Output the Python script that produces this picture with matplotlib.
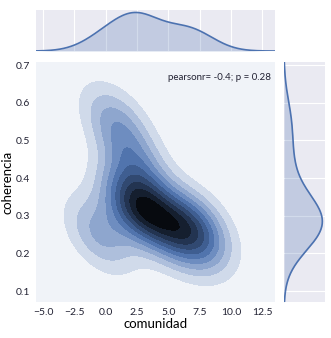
import colorsys
import numpy as np
import matplotlib
matplotlib.use("Agg")
import matplotlib.pyplot as plt
from matplotlib.colors import LinearSegmentedColormap

comunidad = [-0.5, 0.8, 1.9, 3.0, 3.4, 2.4, 5.7, 6.6, 7.6]
coherencia = [0.25, 0.55, 0.32, 0.33, 0.31, 0.44, 0.25, 0.26, 0.27]
annotation = "pearsonr= -0.4; p = 0.28"

color = "#4C72B0"
bg = "#EAEAF2"
plt.rcParams["font.family"] = ["Lato", "DejaVu Sans"]


def kde_1d(data, grid):
    data = np.asarray(data)
    bw = np.std(data, ddof=1) * len(data) ** (-1 / 5)
    z = (grid[:, None] - data[None, :]) / bw
    return np.exp(-0.5 * z ** 2).sum(axis=1) / (len(data) * bw * np.sqrt(2 * np.pi))


def kde_2d(x, y, xx, yy):
    data = np.vstack([x, y])
    n = data.shape[1]
    cov = np.cov(data) * n ** (-1 / 3)
    inv = np.linalg.inv(cov)
    pts = np.vstack([xx.ravel(), yy.ravel()])
    diff = pts[:, :, None] - data[:, None, :]
    q = np.einsum("ipk,ij,jpk->pk", diff, inv, diff)
    dens = np.exp(-0.5 * q).sum(axis=1) / (n * 2 * np.pi * np.sqrt(np.linalg.det(cov)))
    return dens.reshape(xx.shape)


# blue -> black colormap like old seaborn jointplot
h, l, s = colorsys.rgb_to_hls(*matplotlib.colors.to_rgb(color))
cmap = LinearSegmentedColormap.from_list(
    "joint", [colorsys.hls_to_rgb(h, v, s) for v in np.linspace(1, 0, 12)])

xlim = (-5.56, 13.53)
ylim = (0.071, 0.708)

fig = plt.figure(figsize=(3.31, 3.38), dpi=100)
ax = fig.add_axes([0.1088, 0.1065, 0.722, 0.710])
ax_top = fig.add_axes([0.1088, 0.849, 0.722, 0.121], sharex=ax)
ax_right = fig.add_axes([0.858, 0.1065, 0.124, 0.710], sharey=ax)

gx = np.linspace(xlim[0], xlim[1], 200)
gy = np.linspace(ylim[0], ylim[1], 200)
xx, yy = np.meshgrid(gx, gy)
zz = kde_2d(comunidad, coherencia, xx, yy)
ax.contourf(xx, yy, zz, levels=10, cmap=cmap)

ax.set_xlim(*xlim)
ax.set_ylim(*ylim)
ax.set_xticks(np.arange(-5, 12.6, 2.5))
ax.set_yticks([0.1, 0.2, 0.3, 0.4, 0.5, 0.6, 0.7])
ax.tick_params(length=0, labelsize=7.5, labelcolor="#222233", pad=4)
for sp in ax.spines.values():
    sp.set_visible(False)
ax.set_xlabel("comunidad", fontsize=9.5, labelpad=1)
ax.set_ylabel("coherencia", fontsize=9.5, labelpad=2)
ax.text(0.985, 0.955, annotation, transform=ax.transAxes, ha="right", va="top",
        fontsize=7, color="#222233")

dx = kde_1d(comunidad, gx)
ax_top.fill_between(gx, dx, color=color, alpha=0.25, lw=0)
ax_top.plot(gx, dx, color=color, lw=1.2)
ax_top.set_ylim(0, dx.max() * 1.06)

dy = kde_1d(coherencia, gy)
ax_right.fill_betweenx(gy, dy, color=color, alpha=0.25, lw=0)
ax_right.plot(dy, gy, color=color, lw=1.2)
ax_right.set_xlim(0, dy.max() * 1.07)

for m in (ax_top, ax_right):
    m.set_facecolor(bg)
    m.set_axisbelow(True)
    for sp in m.spines.values():
        sp.set_visible(False)
    m.tick_params(length=0, labelbottom=False, labelleft=False)
ax_top.xaxis.grid(True, color="white", lw=0.8)
ax_right.yaxis.grid(True, color="white", lw=0.8)

fig.savefig("out.png", dpi=100)
